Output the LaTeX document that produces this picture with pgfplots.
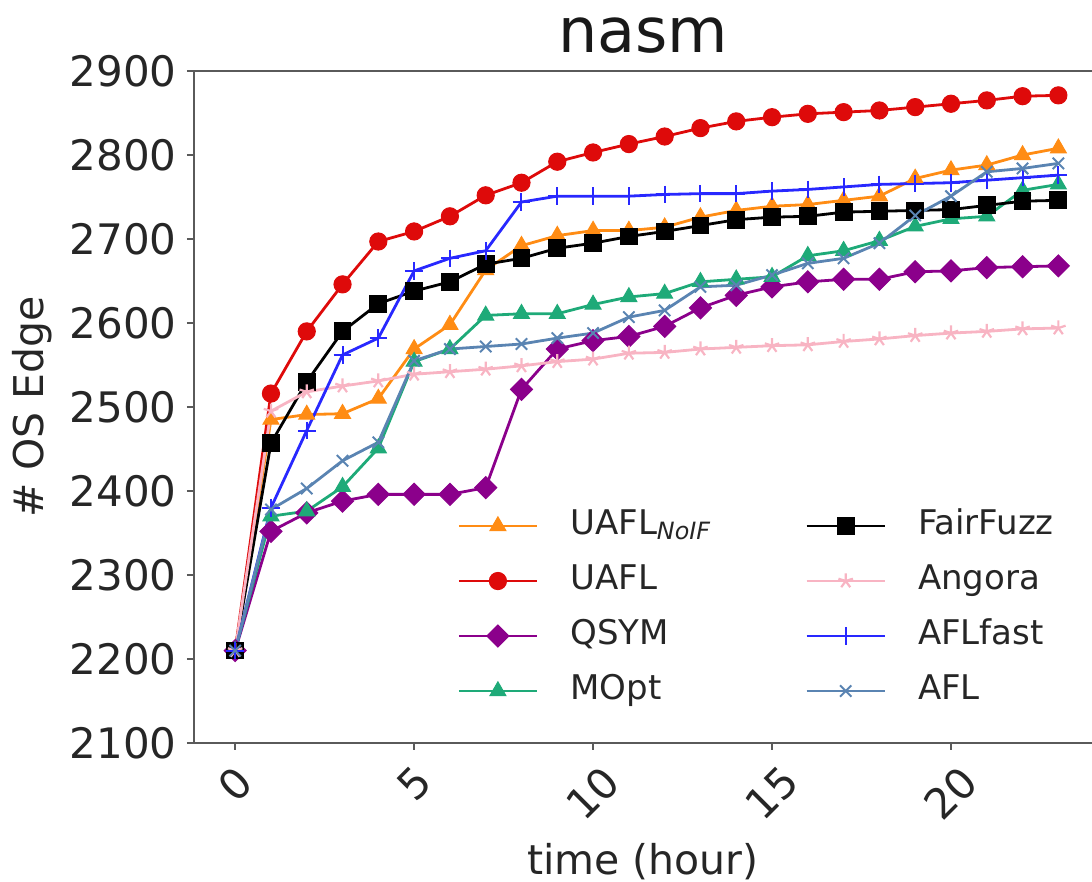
\documentclass[border=0pt]{standalone}
\usepackage{graphicx}
\usepackage{pgfplots}
\pgfplotsset{compat=1.18}
\usepackage{pgfplotstable}
\usepackage{fontspec}
\setmainfont{DejaVu Sans}

\definecolor{cNoIF}{RGB}{255,140,20}
\definecolor{cUAFL}{RGB}{222,10,10}
\definecolor{cQSYM}{RGB}{139,0,139}
\definecolor{cMOpt}{RGB}{30,170,120}
\definecolor{cFair}{RGB}{0,0,0}
\definecolor{cAngora}{RGB}{248,180,195}
\definecolor{cFast}{RGB}{40,40,255}
\definecolor{cAFL}{RGB}{90,132,178}
\definecolor{spine}{RGB}{90,90,90}

% edge coverage over 24 hours, one column per fuzzer
\pgfplotstableread{
t  noif  uafl  qsym  mopt  fair  angora  fast  afl
0  2210  2210  2210  2210  2210  2210    2210  2210
1  2485  2516  2352  2370  2457  2495    2380  2378
2  2491  2590  2374  2376  2530  2518    2472  2403
3  2492  2646  2388  2405  2590  2525    2562  2436
4  2510  2697  2396  2451  2623  2531    2582  2458
5  2569  2709  2396  2554  2638  2539    2662  2555
6  2598  2727  2396  2569  2649  2542    2677  2569
7  2663  2752  2404  2609  2670  2545    2686  2572
8  2692  2767  2521  2611  2677  2549    2744  2575
9  2704  2792  2569  2611  2689  2554    2751  2582
10 2710  2803  2579  2622  2695  2557    2751  2588
11 2710  2813  2584  2631  2703  2564    2751  2607
12 2714  2822  2596  2635  2709  2565    2753  2615
13 2726  2832  2618  2649  2716  2569    2754  2643
14 2734  2840  2633  2652  2723  2571    2754  2645
15 2739  2845  2643  2655  2726  2573    2757  2657
16 2741  2849  2649  2680  2727  2574    2759  2671
17 2746  2851  2652  2686  2732  2578    2762  2677
18 2751  2853  2652  2698  2733  2581    2765  2695
19 2772  2857  2661  2715  2734  2585    2766  2728
20 2782  2861  2662  2724  2735  2588    2767  2751
21 2788  2865  2666  2727  2740  2590    2770  2780
22 2800  2870  2667  2758  2745  2593    2773  2784
23 2808  2871  2668  2765  2746  2594    2776  2790
}\edges

\newcommand{\firstcol}[1]{\makebox[117.5pt][l]{#1}}

\begin{document}
\begin{tikzpicture}
\useasboundingbox (-97pt,-69.5pt) rectangle (449pt,371.5pt);
\begin{axis}[
  at={(0,0)}, anchor=south west,
  scale only axis,
  width=449pt, height=336pt,
  xmin=-1.15, xmax=23.94,
  ymin=2100, ymax=2900,
  axis x line=box, axis y line=left,
  axis line style={spine, line width=1pt, -},
  y axis line style={-},
  xtick={0,5,10,15,20},
  ytick distance=100,
  xtick pos=bottom, ytick pos=left,
  tick align=outside,
  major tick length=3.5pt,
  tick style={spine, line width=0.8pt},
  /pgf/number format/assume math mode=true,
  /pgf/number format/1000 sep={},
  ticklabel style={font=\fontsize{21}{25}\selectfont, text=black!85},
  xticklabel={\rotatebox{45}{\pgfmathprintnumber{\tick}}},
  xticklabel style={yshift=-3pt},
  yticklabel style={inner xsep=0pt, xshift=-5pt},
  title={nasm},
  title style={font=\fontsize{31}{37}\selectfont, text=black!90, at={(axis description cs:0.5,1)}, anchor=base, yshift=3pt},
  xlabel={time (hour)},
  xlabel style={font=\fontsize{20.5}{24}\selectfont, text=black!85, at={(axis description cs:0.5,0)}, anchor=base, yshift=-66pt},
  ylabel={\# OS Edge},
  ylabel style={font=\fontsize{20.5}{24}\selectfont, text=black!85, at={(axis description cs:-0.18,0.5)}, anchor=center},
  every axis plot/.append style={line width=1.4pt},
  legend columns=4,
  transpose legend,
  legend cell align=left,
  legend image code/.code={%
    \path (0pt,0pt) (55pt,0pt);
    \draw[mark repeat=2,mark phase=2] plot coordinates {(0pt,0pt) (19.5pt,0pt) (39pt,0pt)};},
  legend style={
    at={(axis description cs:0.293,0.348)}, anchor=north west,
    draw=none, fill=white,
    font=\fontsize{17}{20}\selectfont, text=black!85,
    inner sep=0pt,
    column sep=0pt,
    row sep=11pt,
    nodes={inner sep=0pt, text height=12.5pt, text depth=4pt},
  },
]
\addplot[color=cNoIF, mark=triangle*, mark size=4.6pt, mark options={solid, fill=cNoIF, draw=cNoIF, line width=0.5pt}] table[x=t, y=noif] {\edges};
\addlegendentry{\firstcol{UAFL\textsubscript{\textit{NoIF}}}}
\addplot[color=cUAFL, mark=*, mark size=4.3pt, mark options={solid, fill=cUAFL, draw=cUAFL, line width=0.5pt}] table[x=t, y=uafl] {\edges};
\addlegendentry{\firstcol{UAFL}}
\addplot[color=cQSYM, mark=square*, mark size=3.9pt, mark options={solid, fill=cQSYM, draw=cQSYM, rotate=45, line width=0.5pt}] table[x=t, y=qsym] {\edges};
\addlegendentry{\firstcol{QSYM}}
\addplot[color=cMOpt, mark=triangle*, mark size=4.6pt, mark options={solid, fill=cMOpt, draw=cMOpt, line width=0.5pt}] table[x=t, y=mopt] {\edges};
\addlegendentry{\firstcol{MOpt}}
\addplot[color=cFair, mark=square*, mark size=4.2pt, mark options={solid, fill=cFair, draw=cFair, line width=0.5pt}] table[x=t, y=fair] {\edges};
\addlegendentry{FairFuzz}
\addplot[color=cAngora, mark=star, mark size=3.8pt, mark options={solid, draw=cAngora, line width=1.1pt}] table[x=t, y=angora] {\edges};
\addlegendentry{Angora}
\addplot[color=cFast, mark=+, mark size=4.4pt, mark options={solid, draw=cFast, line width=1pt}] table[x=t, y=fast] {\edges};
\addlegendentry{AFLfast}
\addplot[color=cAFL, mark=x, mark size=4pt, mark options={solid, draw=cAFL, line width=1pt}] table[x=t, y=afl] {\edges};
\addlegendentry{AFL}
\end{axis}
\end{tikzpicture}
\end{document}
